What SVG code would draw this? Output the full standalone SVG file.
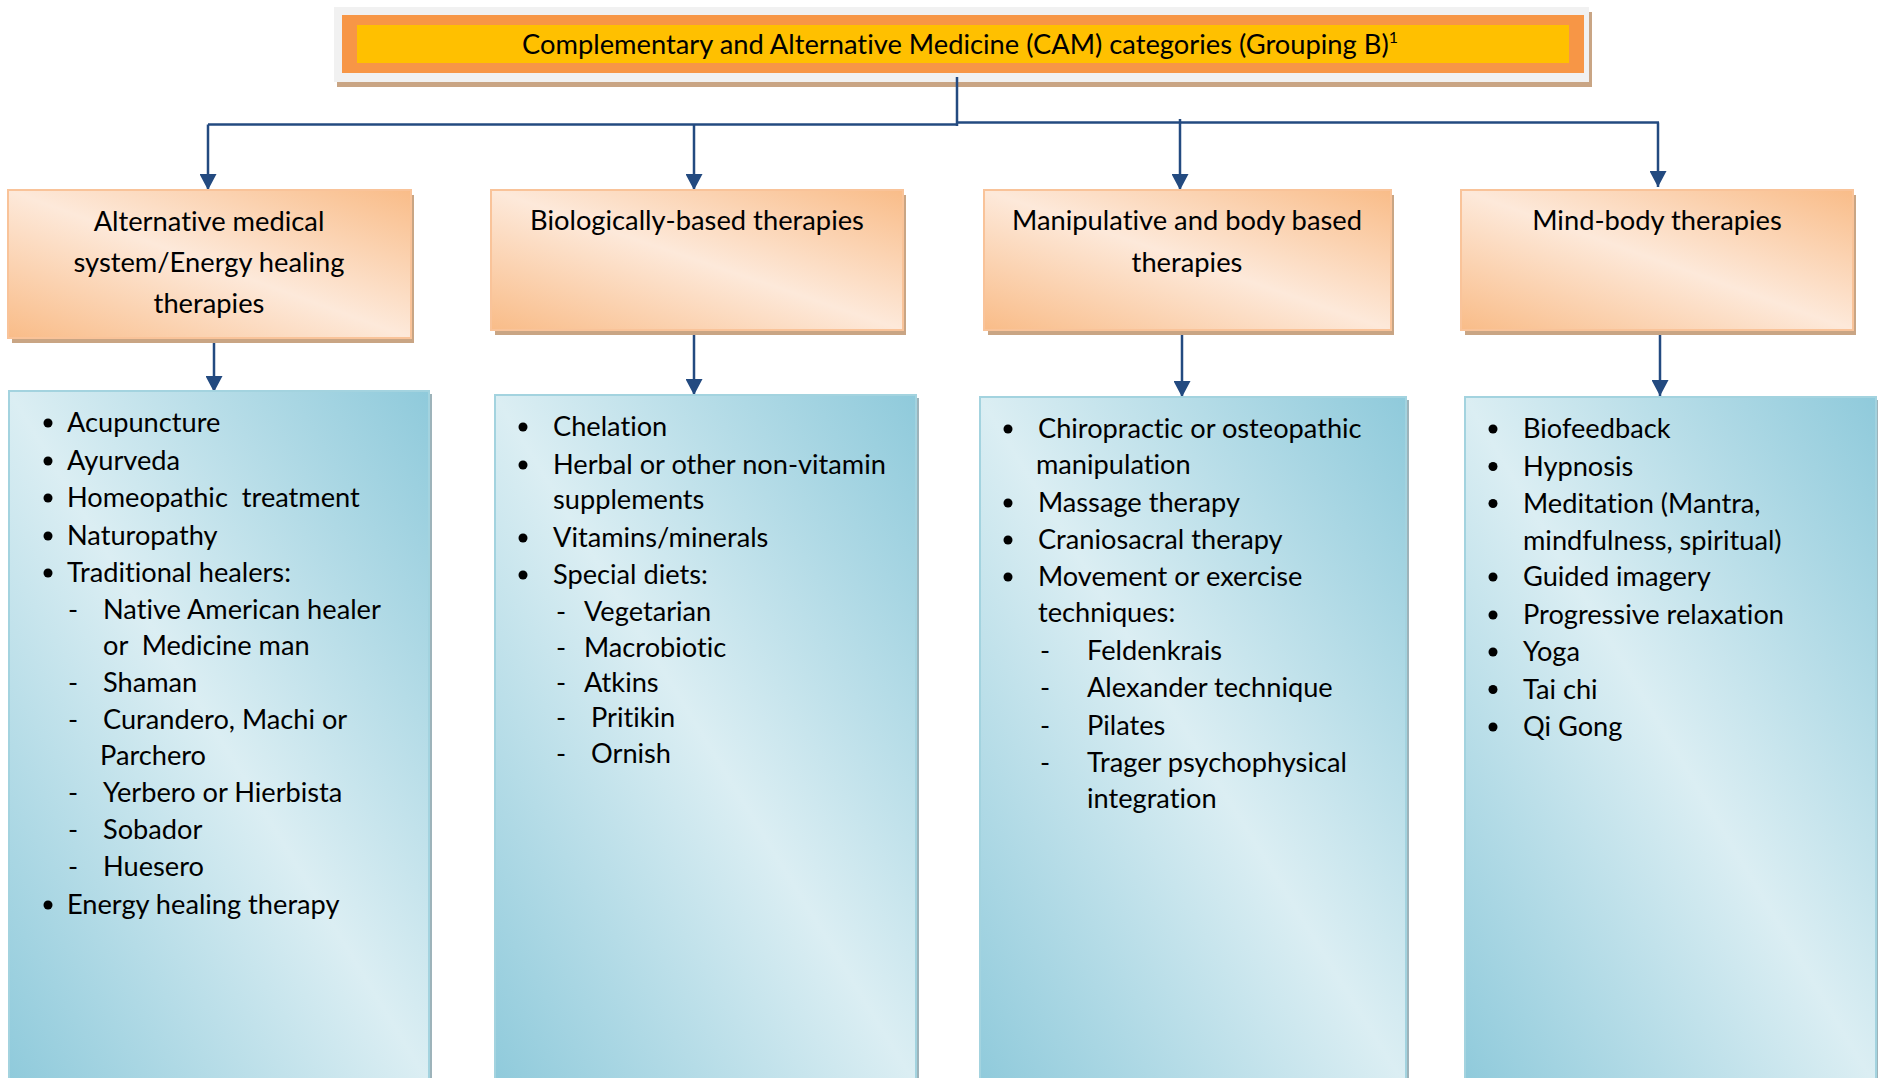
<svg xmlns="http://www.w3.org/2000/svg" width="1878" height="1078" viewBox="0 0 1878 1078">
  <defs>
    <linearGradient id="peach" x1="1" y1="0" x2="0" y2="1">
      <stop offset="0" stop-color="#F9BC88"/>
      <stop offset="0.5" stop-color="#FDE9DA"/>
      <stop offset="1" stop-color="#F9BC88"/>
    </linearGradient>
    <linearGradient id="blue" x1="1" y1="0" x2="0" y2="1">
      <stop offset="0" stop-color="#8FCADB"/>
      <stop offset="0.5" stop-color="#DBEEF3"/>
      <stop offset="1" stop-color="#8FCADB"/>
    </linearGradient>
    <marker id="arr" markerUnits="userSpaceOnUse" markerWidth="17" markerHeight="17" refX="16" refY="8.5" orient="auto">
      <path d="M0,0 L16,8.5 L0,17 Z" fill="#234A80"/>
    </marker>
    <circle id="dot" r="4.5" fill="#000"/>
  </defs>
  <style>
    text { font-family: Lato, "Open Sans", "Liberation Sans", sans-serif; fill: #000; white-space: pre; font-variant-ligatures: none; }
    .h { font-size: 27.3px; text-anchor: middle; }
    .t { font-size: 27.2px; }
    .title { font-size: 27.3px; text-anchor: middle; }
    .sup { font-size: 16px; }
    .pbox { fill: url(#peach); stroke: #F9C399; stroke-width: 2; }
    .bbox { fill: url(#blue); stroke: #A3D3DF; stroke-width: 2; }
    .shadow { fill: #C9A584; }
    .rshadow { fill: #9DB3BA; }
    .conn { fill: none; stroke: #234A80; stroke-width: 2.5; }
  </style>
  <rect width="1878" height="1078" fill="#FFFFFF"/>

  <g id="title">
    <rect class="shadow" x="337" y="12" width="1255" height="75"/>
    <rect x="334" y="7" width="1255" height="75" fill="#F1F1F1"/>
    <rect x="342" y="15" width="1242" height="58" fill="#F79646"/>
    <rect x="357" y="25" width="1212" height="38" fill="#FFC000"/>
    <text class="title" x="960" y="54">Complementary and Alternative Medicine (CAM) categories (Grouping B)<tspan class="sup" dy="-11">1</tspan></text>
  </g>

  <g id="connectors">
    <path class="conn" d="M957,77 V126"/>
    <path class="conn" d="M957,124.5 H208"/>
    <path class="conn" d="M957,122.5 H1659"/>
    <path class="conn" d="M208,124.5 V190" marker-end="url(#arr)"/>
    <path class="conn" d="M694,124.5 V190" marker-end="url(#arr)"/>
    <path class="conn" d="M1180,119 V190" marker-end="url(#arr)"/>
    <path class="conn" d="M1658,122.5 V187" marker-end="url(#arr)"/>
    <path class="conn" d="M214,338 V392" marker-end="url(#arr)"/>
    <path class="conn" d="M694,330 V395" marker-end="url(#arr)"/>
    <path class="conn" d="M1182,330 V397" marker-end="url(#arr)"/>
    <path class="conn" d="M1660,330 V396" marker-end="url(#arr)"/>
  </g>

  <g id="cat1">
    <rect class="shadow" x="12" y="195" width="402" height="148"/>
    <rect class="pbox" x="8" y="190" width="403" height="148"/>
    <text class="h" x="209" y="231">Alternative medical</text>
    <text class="h" x="209" y="272">system/Energy healing</text>
    <text class="h" x="209" y="313">therapies</text>
  </g>
  <g id="cat2">
    <rect class="shadow" x="495" y="195" width="411" height="140"/>
    <rect class="pbox" x="491" y="190" width="412" height="140"/>
    <text class="h" x="697" y="230">Biologically-based therapies</text>
  </g>
  <g id="cat3">
    <rect class="shadow" x="988" y="195" width="406" height="140"/>
    <rect class="pbox" x="984" y="190" width="407" height="140"/>
    <text class="h" x="1187" y="230">Manipulative and body based</text>
    <text class="h" x="1187" y="272">therapies</text>
  </g>
  <g id="cat4">
    <rect class="shadow" x="1465" y="195" width="391" height="140"/>
    <rect class="pbox" x="1461" y="190" width="392" height="140"/>
    <text class="h" x="1657" y="230">Mind-body therapies</text>
  </g>

  <g id="list1">
    <rect class="rshadow" x="429" y="394" width="3" height="690"/>
    <rect class="bbox" x="9" y="391" width="420" height="692"/>
    <use href="#dot" x="48" y="423"/>
    <text class="t" x="67" y="432">Acupuncture</text>
    <use href="#dot" x="48" y="461"/>
    <text class="t" x="67" y="470">Ayurveda</text>
    <use href="#dot" x="48" y="498"/>
    <text class="t" x="67" y="507">Homeopathic  treatment</text>
    <use href="#dot" x="48" y="536"/>
    <text class="t" x="67" y="545">Naturopathy</text>
    <use href="#dot" x="48" y="573"/>
    <text class="t" x="67" y="582">Traditional healers:</text>
    <text class="t" x="68" y="619">-</text>
    <text class="t" x="103" y="619">Native American healer</text>
    <text class="t" x="103" y="655">or  Medicine man</text>
    <text class="t" x="68" y="692">-</text>
    <text class="t" x="103" y="692">Shaman</text>
    <text class="t" x="68" y="729">-</text>
    <text class="t" x="103" y="729">Curandero, Machi or</text>
    <text class="t" x="100" y="765">Parchero</text>
    <text class="t" x="68" y="802">-</text>
    <text class="t" x="103" y="802">Yerbero or Hierbista</text>
    <text class="t" x="68" y="839">-</text>
    <text class="t" x="103" y="839">Sobador</text>
    <text class="t" x="68" y="876">-</text>
    <text class="t" x="103" y="876">Huesero</text>
    <use href="#dot" x="48" y="905"/>
    <text class="t" x="67" y="914">Energy healing therapy</text>
  </g>

  <g id="list2">
    <rect class="rshadow" x="916" y="398" width="3" height="690"/>
    <rect class="bbox" x="495" y="395" width="421" height="690"/>
    <use href="#dot" x="523" y="427"/>
    <text class="t" x="553" y="436">Chelation</text>
    <use href="#dot" x="523" y="465"/>
    <text class="t" x="553" y="474">Herbal or other non-vitamin</text>
    <text class="t" x="553" y="509">supplements</text>
    <use href="#dot" x="523" y="538"/>
    <text class="t" x="553" y="547">Vitamins/minerals</text>
    <use href="#dot" x="523" y="575"/>
    <text class="t" x="553" y="584">Special diets:</text>
    <text class="t" x="556" y="620.5">-</text>
    <text class="t" x="584" y="620.5">Vegetarian</text>
    <text class="t" x="556" y="656.5">-</text>
    <text class="t" x="584" y="656.5">Macrobiotic</text>
    <text class="t" x="556" y="692">-</text>
    <text class="t" x="584" y="692">Atkins</text>
    <text class="t" x="556" y="727">-</text>
    <text class="t" x="591" y="727">Pritikin</text>
    <text class="t" x="556" y="763">-</text>
    <text class="t" x="591" y="763">Ornish</text>
  </g>

  <g id="list3">
    <rect class="rshadow" x="1406" y="400" width="3" height="690"/>
    <rect class="bbox" x="980" y="397" width="426" height="690"/>
    <use href="#dot" x="1008" y="429"/>
    <text class="t" x="1038" y="438">Chiropractic or osteopathic</text>
    <text class="t" x="1036" y="474">manipulation</text>
    <use href="#dot" x="1008" y="503"/>
    <text class="t" x="1038" y="512">Massage therapy</text>
    <use href="#dot" x="1008" y="540"/>
    <text class="t" x="1038" y="549">Craniosacral therapy</text>
    <use href="#dot" x="1008" y="577"/>
    <text class="t" x="1038" y="586">Movement or exercise</text>
    <text class="t" x="1038" y="622">techniques:</text>
    <text class="t" x="1040" y="659.5">-</text>
    <text class="t" x="1087" y="659.5">Feldenkrais</text>
    <text class="t" x="1040" y="696.5">-</text>
    <text class="t" x="1087" y="696.5">Alexander technique</text>
    <text class="t" x="1040" y="734.5">-</text>
    <text class="t" x="1087" y="734.5">Pilates</text>
    <text class="t" x="1040" y="771.5">-</text>
    <text class="t" x="1087" y="771.5">Trager psychophysical</text>
    <text class="t" x="1087" y="807.5">integration</text>
  </g>

  <g id="list4">
    <rect class="rshadow" x="1875" y="400" width="3" height="690"/>
    <rect class="bbox" x="1465" y="397" width="411" height="690"/>
    <use href="#dot" x="1493" y="429"/>
    <text class="t" x="1523" y="438">Biofeedback</text>
    <use href="#dot" x="1493" y="466.5"/>
    <text class="t" x="1523" y="475.5">Hypnosis</text>
    <use href="#dot" x="1493" y="503.5"/>
    <text class="t" x="1523" y="512.5">Meditation (Mantra,</text>
    <text class="t" x="1523" y="549.5">mindfulness, spiritual)</text>
    <use href="#dot" x="1493" y="577"/>
    <text class="t" x="1523" y="586">Guided imagery</text>
    <use href="#dot" x="1493" y="615"/>
    <text class="t" x="1523" y="624">Progressive relaxation</text>
    <use href="#dot" x="1493" y="652"/>
    <text class="t" x="1523" y="661">Yoga</text>
    <use href="#dot" x="1493" y="689.5"/>
    <text class="t" x="1523" y="698.5">Tai chi</text>
    <use href="#dot" x="1493" y="727"/>
    <text class="t" x="1523" y="736">Qi Gong</text>
  </g>
</svg>
